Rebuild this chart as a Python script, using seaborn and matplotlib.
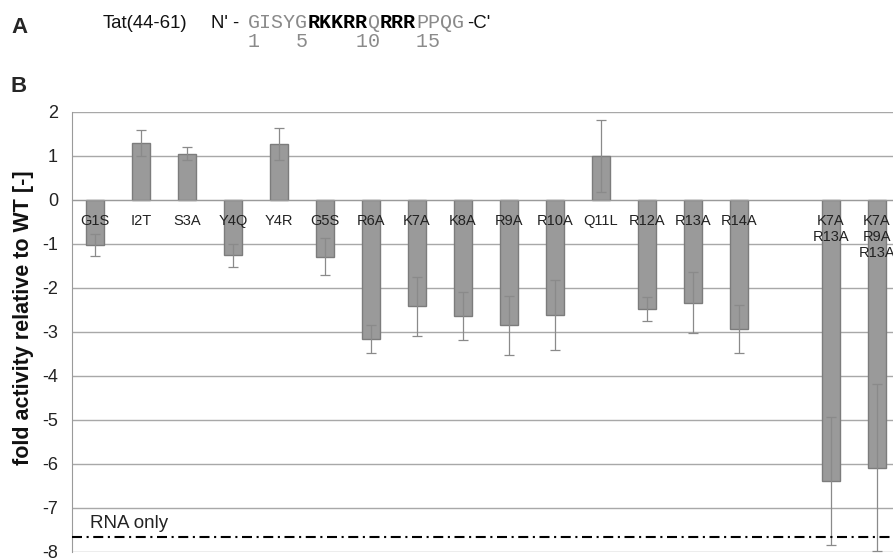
import numpy as np
import pandas as pd
import matplotlib
matplotlib.use('Agg')
import matplotlib.pyplot as plt
from matplotlib.ticker import FixedLocator
import seaborn as sns

# Tat(44-61) alanine scan, fold activity relative to WT
mutants  = ['G1S', 'I2T', 'S3A', 'Y4Q', 'Y4R', 'G5S', 'R6A', 'K7A', 'K8A', 'R9A',
            'R10A', 'Q11L', 'R12A', 'R13A', 'R14A', ' ', 'K7A\nR13A', 'K7A\nR9A\nR13A']
activity = [-1.03, 1.30, 1.05, -1.26, 1.28, -1.29, -3.16, -2.42, -2.63, -2.85,
            -2.61, 1.00, -2.47, -2.33, -2.93, np.nan, -6.38, -6.08]
error    = [0.25, 0.30, 0.15, 0.27, 0.36, 0.42, 0.31, 0.66, 0.55, 0.67,
            0.80, 0.82, 0.27, 0.69, 0.55, np.nan, 1.45, 1.90]
rna_only = -7.67
y_ticks  = list(range(-8, 3))

# peptide sequence segments (text, bold)
seq_parts = [('GISYG', False), ('RKKRR', True), ('Q', False), ('RRR', True), ('PPQG', False)]
seq_numbers = '1   5    10   15'

W, H = 893, 558
sns.set_style('white')
plt.rcParams['font.family'] = ['Liberation Sans', 'DejaVu Sans']
plt.rcParams['axes.unicode_minus'] = False

fig = plt.figure(figsize=(W / 100, H / 100), dpi=100)
# axes runs past the right edge, as in the cropped original
ax = fig.add_axes([72 / W, 6 / H, 828 / W, 440 / H])


def px(x, y):
    return x / W, 1 - y / H


df = pd.DataFrame({'mutant': mutants, 'activity': activity})
sns.barplot(data=df, x='mutant', y='activity', order=mutants, color='#9a9a9a',
            saturation=1, edgecolor='#7c7c7c', linewidth=1, width=0.41,
            errorbar=None, ax=ax, zorder=2)
ax.errorbar(np.arange(len(mutants)), activity, yerr=error, fmt='none',
            ecolor='#8a8a8a', elinewidth=0.9, capsize=3.5, capthick=0.9, zorder=3)

ax.axhline(rna_only, color='black', lw=1.5, ls=(0, (4.8, 2.2, 1.0, 2.2)), zorder=4)
ax.text(-0.11, rna_only + 0.12, 'RNA only', fontsize=13.5, color='#222222',
        ha='left', va='bottom')

ax.set_xlim(-0.5, len(mutants) - 0.5)
ax.set_ylim(-8, 2)
ax.set_yticks(y_ticks)
ax.set_axisbelow(True)
ax.yaxis.grid(True, color='#a8a8a8', lw=1)
ax.xaxis.grid(False)
# category labels sit on top of the bars
ax.xaxis.set_zorder(2.6)

for s in ['top', 'right']:
    ax.spines[s].set_visible(False)
ax.spines['left'].set_color('#9a9a9a')
ax.spines['bottom'].set_position(('data', 0))
ax.spines['bottom'].set_color('#9a9a9a')

ax.xaxis.set_minor_locator(FixedLocator(np.arange(-0.5, len(mutants), 1)))
ax.tick_params(axis='x', which='major', length=0, pad=10, labelsize=10.5, labelcolor='#222222')
ax.tick_params(axis='x', which='minor', length=4, color='#9a9a9a', direction='out')
ax.tick_params(axis='y', length=4, color='#9a9a9a', pad=6, labelsize=13, labelcolor='#222222')
ax.set_xlabel('')
ax.set_ylabel('')

fig.text(*px(24, 318), 'fold activity relative to WT [-]', rotation=90, fontsize=15.5,
         fontweight='bold', ha='center', va='center', color='#111111')

# panel letters and peptide header
fig.text(*px(11, 33), 'A', fontsize=16, fontweight='bold', va='baseline')
fig.text(*px(11, 92), 'B', fontsize=16, fontweight='bold', va='baseline')
fig.text(*px(103, 28), 'Tat(44-61)', fontsize=13.4, va='baseline', color='#111111')
fig.text(*px(211, 28), "N' -", fontsize=13.4, va='baseline', color='#111111')

x0, cw = 248, 12
i = 0
for txt, bold in seq_parts:
    fig.text(*px(x0 + i * cw, 28), txt, family='Liberation Mono', fontsize=14.4,
             va='baseline', fontweight='bold' if bold else 'normal',
             color='black' if bold else '#8a8a8a')
    i += len(txt)
fig.text(*px(x0 + i * cw + 3, 28), "-C'", fontsize=13.4, va='baseline', color='#111111')
fig.text(*px(x0, 47), seq_numbers, family='Liberation Mono', fontsize=14.4,
         va='baseline', color='#8a8a8a')

fig.savefig('out.png', dpi=100)
